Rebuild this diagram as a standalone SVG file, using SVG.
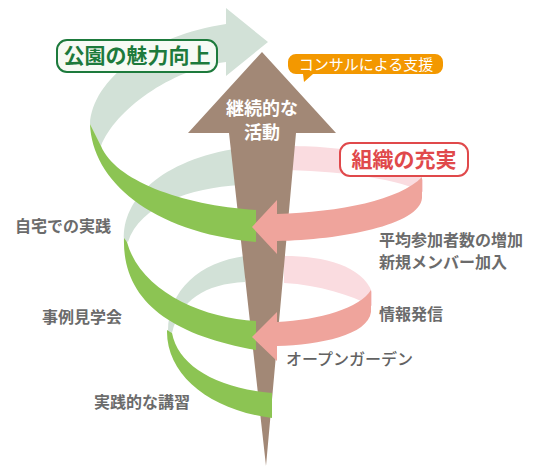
<svg xmlns="http://www.w3.org/2000/svg" width="537" height="466" viewBox="0 0 537 466">
<style>
.pg{fill:#d2e1d7}
.g{fill:#8cc453}
.pp{fill:#fadce0}
.p{fill:#efa49c}
.br{fill:#a28876}
.t{font-family:"Noto Sans CJK JP","Noto Sans",sans-serif}
.lab{font-size:16px;font-weight:bold;fill:#6b6b6b}
</style>
<rect width="537" height="466" fill="#ffffff"/>
<g id="back-bands">
  <path class="pg" d="M90,124 C92,80 150,35 226,24 L226,8 L268,42 L226,76 L226,62 C170,70 115,110 101,146 Z"/>
  <path class="pg" d="M124,240 C122,200 160,160 240,148 L240,185 C190,188 140,205 128,242 Z"/>
  <path class="pg" d="M168,331 C168,290 200,262 245,256 L245,282 C205,284 180,300 172,333 Z"/>
  <path class="pp" d="M288,146 C350,146 410,158 423,180 L423,192 C400,180 350,172 288,170 Z"/>
  <path class="pp" d="M284,256 C325,256 362,266 372,292 L372,306 C350,295 320,285 284,283 Z"/>
</g>
<g id="main-arrow">
  <path class="br" d="M262,52 L336,133 L296,133 L266,466 L229,133 L188,133 Z"/>
  <text class="t" x="262" y="115" text-anchor="middle" font-size="18" font-weight="bold" fill="#ffffff">継続的な</text>
  <text class="t" x="262" y="139" text-anchor="middle" font-size="18" font-weight="bold" fill="#ffffff">活動</text>
</g>
<g id="connectors">
  <path class="g" d="M90,124 C92,180 150,232 256,242 L256,210 C180,205 115,180 101,146 Z"/>
  <path class="g" d="M124,238 C122,300 170,335 256,350 L256,321 C200,318 140,290 127,242 Z"/>
  <path class="g" d="M167,330 C166,375 210,410 272,418 L272,393 C215,388 178,365 172,333 Z"/>
  <path class="p" d="M422,177 L422,198 C420,225 340,240 277,241 L277,254 L252,227 L277,200 L277,214 C340,212 400,200 422,177 Z"/>
  <path class="p" d="M371,290 L371,312 C368,335 320,345 277,346 L277,361 L252,337 L277,312 L277,322 C320,320 360,308 371,290 Z"/>
</g>
<g id="node-park">
  <rect x="57" y="40" width="160" height="32" rx="10" fill="#f6faf4" stroke="#1d7a3c" stroke-width="2"/>
  <text class="t" x="137" y="63" text-anchor="middle" font-size="21" font-weight="bold" fill="#1d7a3c">公園の魅力向上</text>
</g>
<g id="node-org">
  <rect x="340" y="143" width="128" height="33" rx="10" fill="#ffffff" stroke="#e0494b" stroke-width="2"/>
  <text class="t" x="404" y="167" text-anchor="middle" font-size="21" font-weight="bold" fill="#e0494b">組織の充実</text>
</g>
<g id="node-consult">
  <path d="M296,54 H435 A8,8 0 0 1 443,62 V66 A8,8 0 0 1 435,74 H313 L304,82 L303,74 H296 A8,8 0 0 1 288,66 V62 A8,8 0 0 1 296,54 Z" fill="#f39800"/>
  <text class="t" x="366" y="70" text-anchor="middle" font-size="15" fill="#ffffff">コンサルによる支援</text>
</g>
<g id="node-home"><text class="t lab" x="15" y="232">自宅での実践</text></g>
<g id="node-visit"><text class="t lab" x="42" y="323">事例見学会</text></g>
<g id="node-lecture"><text class="t lab" x="94" y="408">実践的な講習</text></g>
<g id="node-members"><text class="t lab" x="379" y="246">平均参加者数の増加</text><text class="t lab" x="379" y="268">新規メンバー加入</text></g>
<g id="node-info"><text class="t lab" x="379" y="320">情報発信</text></g>
<g id="node-garden"><text class="t" x="286" y="365" font-size="16" font-weight="500" fill="#626262">オープンガーデン</text></g>
</svg>
